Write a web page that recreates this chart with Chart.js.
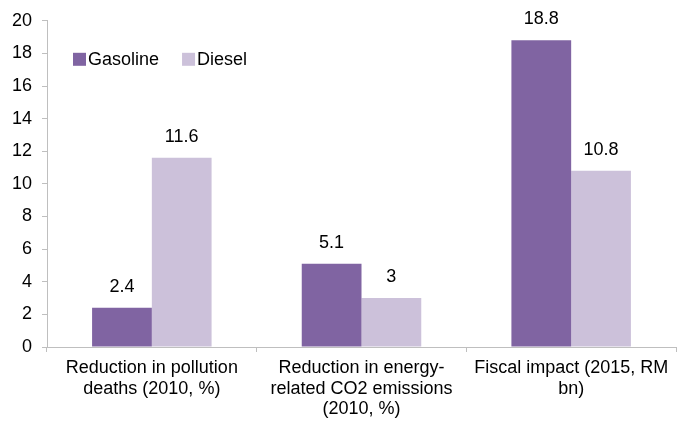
<!DOCTYPE html>
<html>
<head>
<meta charset="utf-8">
<script src="https://cdn.jsdelivr.net/npm/chart.js@4/dist/chart.umd.min.js"></script>
<style>
	html, body { margin: 0; padding: 0; background: #fff; }
	#wrap { width: 689px; height: 421px; }
</style>
</head>
<body>
<div id="wrap"><canvas id="ChartSubsidi"></canvas></div>
<script>
// DATA
const categories = [
	["Reduction in pollution", "deaths (2010, %)"],
	["Reduction in energy-", "related CO2 emissions", "(2010, %)"],
	["Fiscal impact (2015, RM", "bn)"],
];
const gasolineValues = [2.4, 5.1, 18.8];
const dieselValues = [11.6, 3, 10.8];
const seriesNames = ["Gasoline", "Diesel"];

const FONT = "'Liberation Sans', Arial, sans-serif";

// label angka di atas bar
const valueLabels = {
	id: "valueLabels",
	afterDatasetsDraw(chart) {
		const ctx = chart.ctx;
		ctx.save();
		ctx.font = "18px " + FONT;
		ctx.fillStyle = "#000";
		ctx.textAlign = "center";
		ctx.textBaseline = "middle";
		chart.data.datasets.forEach((ds, i) => {
			chart.getDatasetMeta(i).data.forEach((bar, j) => {
				ctx.fillText(String(ds.data[j]), bar.x, bar.y - 21);
			});
		});
		ctx.restore();
	},
};

// legend di dalam area chart, satu baris
const insideLegend = {
	id: "insideLegend",
	afterDraw(chart) {
		const ctx = chart.ctx;
		const area = chart.chartArea;
		ctx.save();
		ctx.font = "18px " + FONT;
		ctx.textBaseline = "middle";
		ctx.textAlign = "left";
		let x = area.left + 26;
		const y = area.top + 38;
		chart.data.datasets.forEach((ds) => {
			ctx.fillStyle = ds.backgroundColor;
			ctx.fillRect(x, y - 6, 13, 13);
			ctx.fillStyle = "#000";
			ctx.fillText(ds.label, x + 15, y + 1);
			x += 15 + ctx.measureText(ds.label).width + 23;
		});
		ctx.restore();
	},
};

const configSubsidi = {
	type: "bar",
	data: {
		labels: categories,
		datasets: [
			{
				label: seriesNames[0],
				data: gasolineValues,
				backgroundColor: "#8064A2",
				borderWidth: 0,
			},
			{
				label: seriesNames[1],
				data: dieselValues,
				backgroundColor: "#CCC1DA",
				borderWidth: 0,
			},
		],
	},
	options: {
		responsive: true,
		maintainAspectRatio: false,
		animation: false,
		layout: { padding: { top: 19, right: 13, left: 0, bottom: 0 } },
		datasets: { bar: { categoryPercentage: 0.57, barPercentage: 1 } },
		plugins: {
			tooltip: { enabled: false },
			legend: { display: false },
		},
		scales: {
			x: {
				afterFit: (s) => { s.height = 74; },
				grid: { offset: true, drawOnChartArea: false, tickLength: 5, color: "#BFBFBF" },
				border: { color: "#BFBFBF" },
				ticks: {
					color: "#000",
					padding: 6,
					font: { size: 18, family: FONT, lineHeight: 1.14 },
				},
			},
			y: {
				min: 0,
				max: 20,
				afterFit: (s) => { s.width = 47; },
				grid: { drawOnChartArea: false, tickLength: 5, color: "#BFBFBF" },
				border: { color: "#BFBFBF" },
				ticks: {
					stepSize: 2,
					color: "#000",
					padding: 10,
					font: { size: 18, family: FONT },
				},
			},
		},
	},
	plugins: [valueLabels, insideLegend],
};

const ChartSubsidi = new Chart(document.getElementById("ChartSubsidi"), configSubsidi);
</script>
</body>
</html>
